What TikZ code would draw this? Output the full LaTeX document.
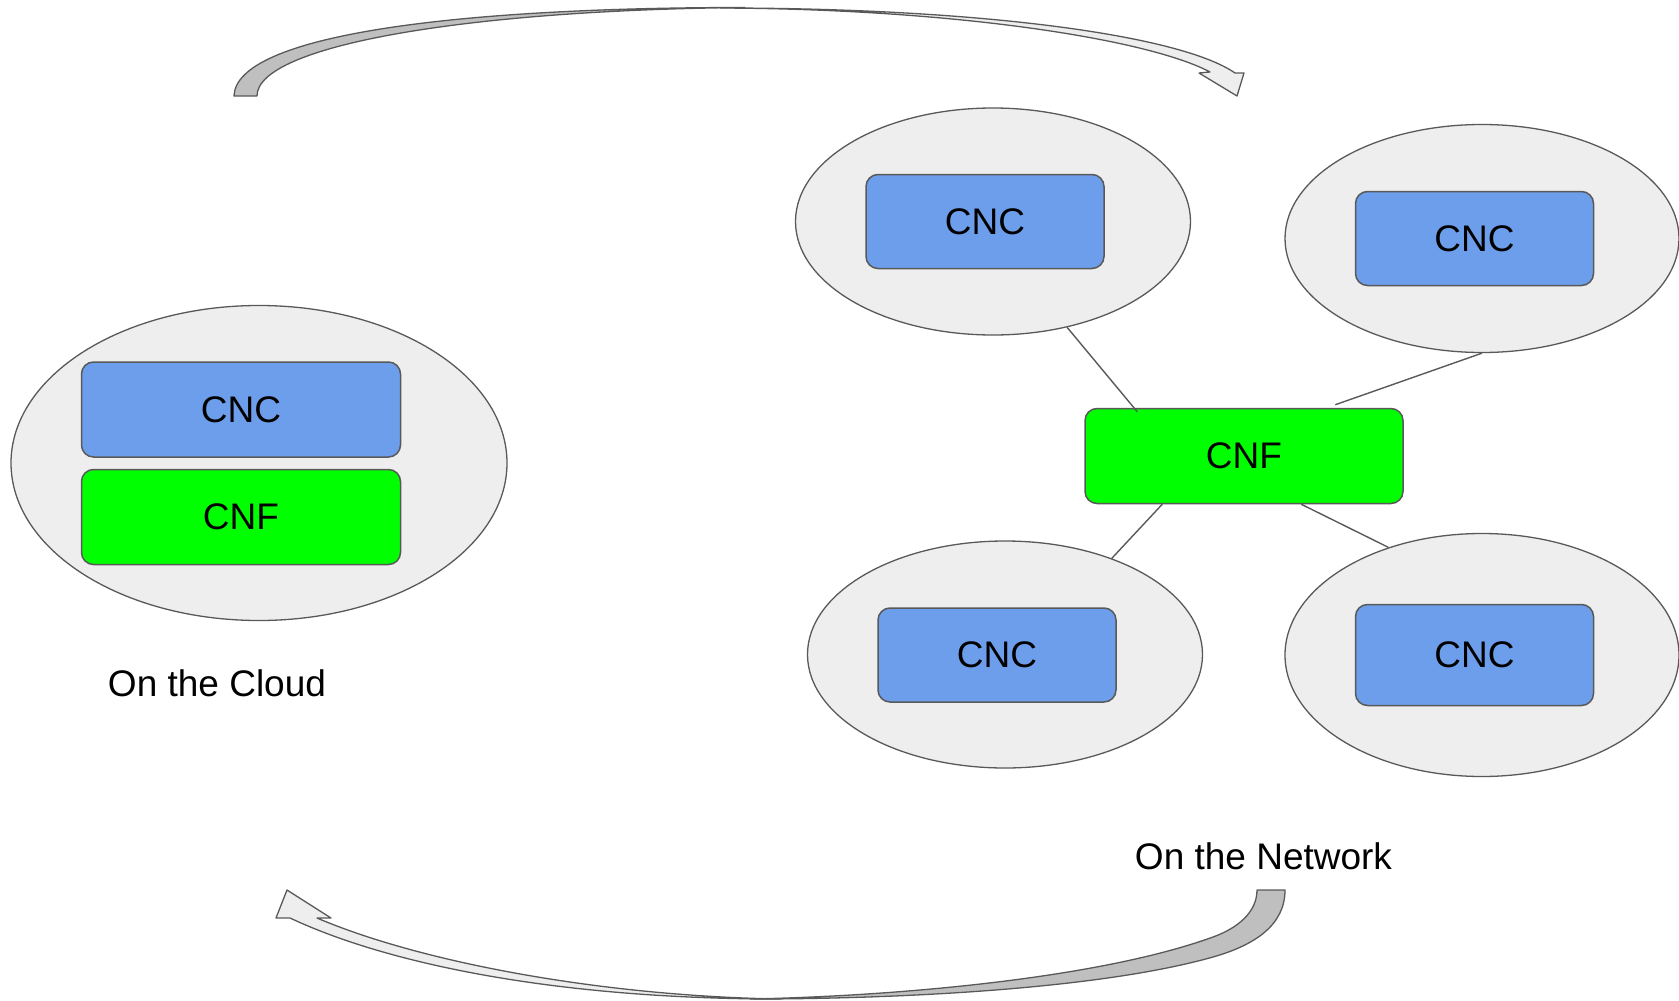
\documentclass[tikz,border=0pt]{standalone}
\usepackage{fontspec}
\setmainfont{Liberation Sans}
\usetikzlibrary{shapes.geometric,calc}
\definecolor{edgegray}{HTML}{595959}
\definecolor{bubblefill}{HTML}{EEEEEE}
\definecolor{cncblue}{HTML}{6D9EEB}
\definecolor{cnfgreen}{HTML}{00FF00}
\definecolor{shadefill}{HTML}{BFBFBF}
\begin{document}
\begin{tikzpicture}[x=1pt,y=-1pt,
  bubble/.style={ellipse, draw=edgegray, fill=bubblefill, line width=1.3pt, inner sep=0pt},
  box/.style={rectangle, rounded corners=12pt, draw=edgegray, line width=1.5pt, inner sep=0pt,
    font=\fontsize{37}{44}\selectfont},
  cnc/.style={box, fill=cncblue, minimum width=238pt, minimum height=94pt},
  cnf/.style={box, fill=cnfgreen, minimum width=318pt, minimum height=95pt},
  lbltext/.style={inner sep=0pt, anchor=base, font=\fontsize{37}{44}\selectfont},
  conn/.style={draw=edgegray, line width=1.4pt},
  arrowdark/.style={fill=shadefill, draw=edgegray, line width=1.3pt, line join=round},
  arrowlight/.style={fill=bubblefill, draw=edgegray, line width=1.3pt, line join=round}
]
\useasboundingbox (0,0) rectangle (1679,1001);

% top curved arrow
\filldraw[arrowdark] (234,96) .. controls (236,35) and (455,7.5) .. (745,7.5)
  .. controls (470,10) and (257,45) .. (257,96) -- cycle;
\filldraw[arrowlight] (720,8) .. controls (980,8) and (1180,35) .. (1235,73)
  -- (1244,73) -- (1237,96) -- (1199,73) -- (1210,72)
  .. controls (1150,40) and (960,9) .. (720,8) -- cycle;

% bottom curved arrow
\filldraw[arrowdark] (1257,890) -- (1285,890)
  .. controls (1285,925) and (1255,945) .. (1213,957)
  .. controls (1100,989) and (900,999) .. (750,999)
  .. controls (900,996) and (1100,978) .. (1213,937)
  .. controls (1238,928) and (1257,912) .. (1257,890) -- cycle;
\filldraw[arrowlight] (290,918) .. controls (390,965) and (560,999) .. (780,999)
  .. controls (600,996) and (420,962) .. (317,918)
  -- (331,918) -- (287,890) -- (276,918) -- cycle;

% on the cloud
\node[bubble, minimum width=496pt, minimum height=315pt] (cloud) at (259,463) {};
\node[cnc, minimum width=319pt, minimum height=95pt] (cloudcnc) at (241,409.5) {CNC};
\node[cnf, minimum width=319pt, minimum height=95pt] (cloudcnf) at (241,517) {CNF};
\node[lbltext] (cloudlbl) at (217,696) {On the Cloud};

% on the network
\node[bubble, minimum width=395pt, minimum height=227pt] (tl) at (993,221.5) {};
\node[cnc] (tlcnc) at (985,221.5) {CNC};
\node[bubble, minimum width=394pt, minimum height=228pt] (tr) at (1482,238.5) {};
\node[cnc] (trcnc) at (1474.5,238.5) {CNC};
\node[bubble, minimum width=395pt, minimum height=227pt] (bl) at (1005,654.5) {};
\node[cnc] (blcnc) at (997,655) {CNC};
\node[bubble, minimum width=394pt, minimum height=243pt] (br) at (1482,655) {};
\node[cnc, minimum height=101pt] (brcnc) at (1474.5,655) {CNC};
\node[cnf] (cnf) at (1244,456) {CNF};
\node[lbltext] (netlbl) at (1263.5,869) {On the Network};

% connectors
\draw[conn] (tl.-55) -- ([xshift=53pt,yshift=-4pt]cnf.north west);
\draw[conn] (tr.south) -- ([xshift=251pt,yshift=3pt]cnf.north west);
\draw[conn] ([xshift=78pt]cnf.south west) -- (bl.42);
\draw[conn] ([xshift=217pt]cnf.south west) -- (br.131);
\end{tikzpicture}
\end{document}
